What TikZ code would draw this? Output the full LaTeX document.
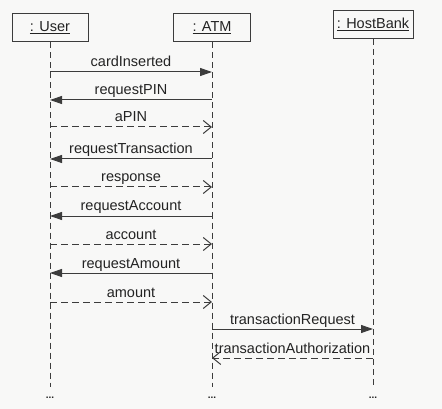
\documentclass[tikz,border=0pt]{standalone}
\usepackage{fontspec}
\setmainfont{Liberation Sans}
\usetikzlibrary{arrows.meta}
\definecolor{ink}{RGB}{60,60,60}
\definecolor{txt}{RGB}{35,35,35}
\definecolor{paper}{RGB}{248,248,247}
\begin{document}
\begin{tikzpicture}[x=1pt,y=-1pt,
  obj/.style={draw=ink, line width=1pt, minimum height=28pt, inner sep=0pt, text=txt,
    font=\fontsize{14.5}{16}\selectfont},
  life/.style={draw=ink, line width=0.9pt, dash pattern=on 6pt off 4pt},
  sync/.style={draw=ink, line width=1pt, -{Triangle[length=12pt,width=8pt]}},
  reply/.style={draw=ink, line width=1pt, dash pattern=on 7pt off 4pt,
    -{Straight Barb[length=8pt,width=13pt,line width=1pt]}},
  lbl/.style={anchor=base, yshift=5pt, text=txt, inner sep=0pt,
    font=\fontsize{14.5}{16}\selectfont},
  dotsnode/.style={text=txt, inner sep=0pt, font=\bfseries\fontsize{10}{12}\selectfont}
]
\fill[paper] (0,0) rectangle (442,409);
\useasboundingbox (0,0) rectangle (442,409);

% objects
\node[obj, minimum width=76pt] (user) at (50,28) {\underline{: User}};
\node[obj, minimum width=77pt] (atm) at (212,28) {\underline{: ATM}};
\node[obj, minimum width=80pt] (host) at (373,24.5) {\underline{: HostBank}};

% lifeline ends
\path (user.south |- 0,387) coordinate (uEnd)
      (atm.south |- 0,387) coordinate (aEnd)
      (host.south |- 0,387) coordinate (hEnd);
\draw[life] (user.south) -- (uEnd);
\draw[life] (atm.south) -- (aEnd);
\draw[life] (host.south) -- (hEnd);

% continuation dots
\node[dotsnode] (uDots) at (50,398) {...};
\node[dotsnode] (aDots) at (212,398) {...};
\node[dotsnode] (hDots) at (373,398) {...};

% message end points on the lifelines
\foreach \i/\y in {1/72,2/100,3/127,4/159,5/187,6/216,7/244,8/273,9/302,10/329,11/358}{
  \path (user.south |- 0,\y) coordinate (u\i)
        (atm.south |- 0,\y) coordinate (a\i)
        (host.south |- 0,\y) coordinate (h\i);
}

% messages
\draw[sync]  (u1) -- node[lbl]{cardInserted} (a1);
\draw[sync]  (a2) -- node[lbl]{requestPIN} (u2);
\draw[reply] (u3) -- node[lbl]{aPIN} (a3);
\draw[sync]  (a4) -- node[lbl]{requestTransaction} (u4);
\draw[reply] (u5) -- node[lbl]{response} (a5);
\draw[sync]  (a6) -- node[lbl]{requestAccount} (u6);
\draw[reply] (u7) -- node[lbl]{account} (a7);
\draw[sync]  (a8) -- node[lbl]{requestAmount} (u8);
\draw[reply] (u9) -- node[lbl]{amount} (a9);
\draw[sync]  (a10) -- node[lbl]{transactionRequest} (h10);
\draw[reply] (h11) -- node[lbl]{transactionAuthorization} (a11);
\end{tikzpicture}
\end{document}
